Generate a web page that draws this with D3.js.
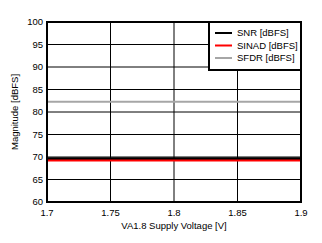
<!DOCTYPE html>
<html>
<head>
<meta charset="utf-8">
<script src="https://cdn.jsdelivr.net/npm/d3@7"></script>
<style>
  body { margin: 0; background: #fff; }
  svg { display: block; font-family: "Liberation Sans", Arial, sans-serif; }
</style>
</head>
<body>
<svg id="chart" width="322" height="243"></svg>
<script>
// data
const supplyVoltage = [1.7, 1.75, 1.8, 1.85, 1.9];
const snr = [69.6, 69.6, 69.6, 69.6, 69.6];
const sinad = [69.2, 69.2, 69.2, 69.2, 69.2];
const sfdr = [82.3, 82.3, 82.3, 82.3, 82.3];
const seriesNames = ["SNR [dBFS]", "SINAD [dBFS]", "SFDR [dBFS]"];
const seriesColors = ["#000000", "#ff0000", "#a6a6a6"];
const xTicks = [1.7, 1.75, 1.8, 1.85, 1.9];
const yTicks = [60, 65, 70, 75, 80, 85, 90, 95, 100];

const margin = {top: 22, right: 21, bottom: 41, left: 47};
const width = 322, height = 243;
const innerW = width - margin.left - margin.right;
const innerH = height - margin.top - margin.bottom;

const svg = d3.select("#chart");
const g = svg.append("g")
    .attr("transform", "translate(" + margin.left + "," + margin.top + ")");

const x = d3.scaleLinear().domain([1.7, 1.9]).range([0, innerW]);
const y = d3.scaleLinear().domain([60, 100]).range([innerH, 0]);

// grid
g.append("g").selectAll("line")
    .data(yTicks)
    .enter().append("line")
    .attr("x1", 0).attr("x2", innerW)
    .attr("y1", d => y(d)).attr("y2", d => y(d))
    .attr("stroke", "#000").attr("stroke-width", 1);
g.append("g").selectAll("line")
    .data(xTicks)
    .enter().append("line")
    .attr("y1", 0).attr("y2", innerH)
    .attr("x1", d => x(d)).attr("x2", d => x(d))
    .attr("stroke", "#000").attr("stroke-width", 1);

// tick labels
g.append("g").selectAll("text")
    .data(yTicks)
    .enter().append("text")
    .attr("x", -4).attr("y", d => y(d))
    .attr("dy", "0.35em")
    .attr("text-anchor", "end")
    .attr("font-size", 9.5)
    .text(d => d);
g.append("g").selectAll("text")
    .data(xTicks)
    .enter().append("text")
    .attr("x", d => x(d)).attr("y", innerH + 14)
    .attr("text-anchor", "middle")
    .attr("font-size", 9.5)
    .text(d => d);

// series
const line = d3.line()
    .x((d, i) => x(supplyVoltage[i]))
    .y(d => y(d));
const allSeries = [snr, sinad, sfdr];
const widths = [3, 2, 2];
// draw SFDR, SNR, then SINAD so red sits over black edge
[2, 0, 1].forEach(i => {
    g.append("path")
        .datum(allSeries[i])
        .attr("fill", "none")
        .attr("stroke", seriesColors[i])
        .attr("stroke-width", widths[i])
        .attr("d", line);
});

// frame
g.append("rect")
    .attr("width", innerW).attr("height", innerH)
    .attr("fill", "none").attr("stroke", "#000").attr("stroke-width", 2);

// legend
const lg = g.append("g").attr("transform", "translate(" + (innerW - 92) + ",0)");
lg.append("rect")
    .attr("width", 92).attr("height", 48)
    .attr("fill", "#fff").attr("stroke", "#000").attr("stroke-width", 2);
seriesNames.forEach((name, i) => {
    const yy = 11 + i * 12.5;
    lg.append("line")
        .attr("x1", 6).attr("x2", 23)
        .attr("y1", yy).attr("y2", yy)
        .attr("stroke", seriesColors[i]).attr("stroke-width", 2);
    lg.append("text")
        .attr("x", 28).attr("y", yy)
        .attr("dy", "0.35em")
        .attr("font-size", 9.5)
        .text(name);
});

// axis titles
svg.append("text")
    .attr("x", margin.left + innerW / 2).attr("y", 229)
    .attr("text-anchor", "middle")
    .attr("font-size", 9.5)
    .text("VA1.8 Supply Voltage [V]");
svg.append("text")
    .attr("transform", "translate(18," + (margin.top + innerH / 2) + ") rotate(-90)")
    .attr("text-anchor", "middle")
    .attr("font-size", 9.5)
    .text("Magnitude [dBFS]");
</script>
</body>
</html>
